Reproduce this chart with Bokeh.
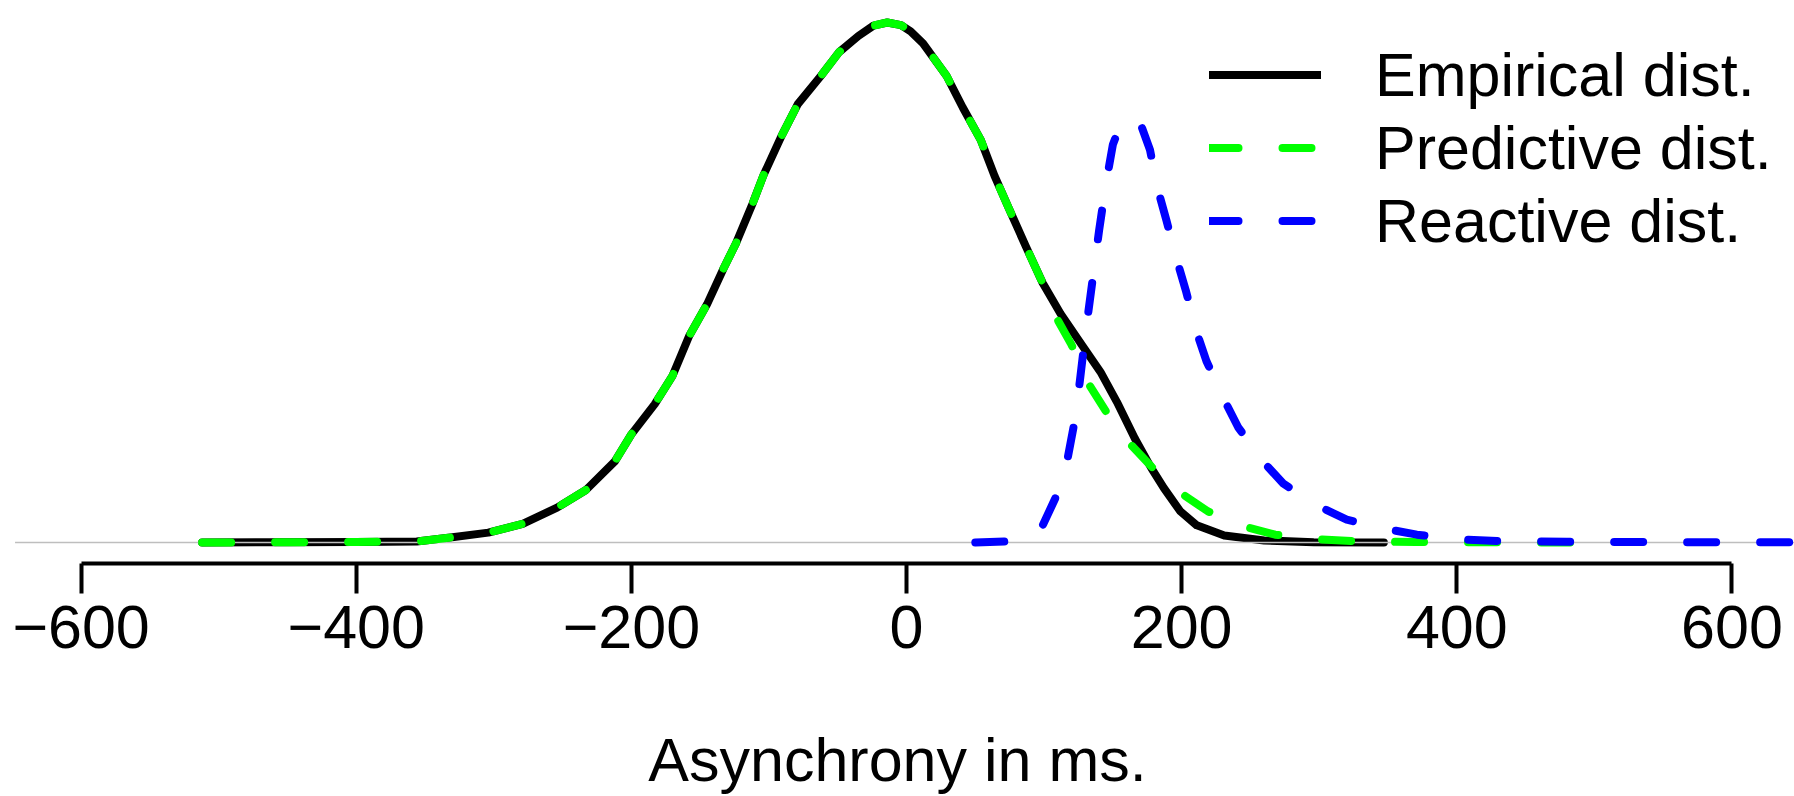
from bokeh.plotting import figure
from bokeh.models import Range1d, FixedTicker, Legend, LegendItem
from bokeh.embed import file_html
from bokeh.resources import INLINE

# ---- data (density relative to the empirical peak) ----
emp_x = [-512, -450, -400, -356, -333, -304, -279, -254, -233, -212, -200, -183,
         -170, -158, -145, -133, -124, -112, -104, -91, -79, -62, -49, -35, -24,
         -14, -4, 3, 12, 29, 41, 54, 64, 74, 87, 99, 112, 128, 141, 153, 166, 178,
         187, 199, 211, 231, 260, 296, 347]
emp_y = [0.000, 0.0005, 0.001, 0.002, 0.009, 0.019, 0.036, 0.067, 0.101, 0.156,
         0.208, 0.266, 0.321, 0.397, 0.458, 0.527, 0.575, 0.651, 0.706, 0.781,
         0.843, 0.898, 0.943, 0.974, 0.994, 1.000, 0.995, 0.983, 0.960, 0.898,
         0.836, 0.774, 0.705, 0.645, 0.568, 0.499, 0.440, 0.378, 0.328, 0.270,
         0.200, 0.143, 0.105, 0.060, 0.033, 0.0135, 0.004, 0.0005, 0.000]

pred_x = [-512, -450, -400, -356, -333, -304, -279, -254, -233, -212, -200, -183,
          -170, -158, -145, -133, -124, -112, -104, -91, -79, -62, -49, -35, -24,
          -14, -4, 3, 12, 29, 41, 54, 64, 74, 87, 99, 108, 120, 130, 145, 161, 178,
          200, 219, 245, 268, 300, 330, 370, 420, 490]
pred_y = [0.000, 0.0005, 0.001, 0.002, 0.009, 0.019, 0.036, 0.067, 0.101, 0.156,
          0.208, 0.266, 0.321, 0.397, 0.458, 0.527, 0.575, 0.651, 0.706, 0.781,
          0.843, 0.898, 0.943, 0.974, 0.994, 1.000, 0.995, 0.983, 0.960, 0.898,
          0.836, 0.774, 0.705, 0.645, 0.568, 0.499, 0.437, 0.380, 0.315, 0.252,
          0.194, 0.146, 0.094, 0.060, 0.031, 0.015, 0.006, 0.002, 0.0008, 0.0003,
          0.000]

react_x = [50, 75, 90, 99, 108, 117, 122, 126, 130, 135, 140, 145, 150, 155, 160,
           165, 170, 177, 183, 189, 197, 203, 211, 218, 231, 241, 259, 274, 300,
           320, 349, 371, 400, 430, 480, 560, 700]
react_y = [0.000, 0.002, 0.012, 0.033, 0.084, 0.160, 0.230, 0.310, 0.400, 0.500,
           0.600, 0.690, 0.765, 0.800, 0.815, 0.815, 0.806, 0.755, 0.676, 0.619,
           0.539, 0.485, 0.404, 0.349, 0.274, 0.222, 0.156, 0.113, 0.069, 0.044,
           0.026, 0.015, 0.006, 0.003, 0.0015, 0.0007, 0.0002]

tick_values = [-600, -400, -200, 0, 200, 400, 600]
tick_labels = ["\u2212600", "\u2212400", "\u2212200", "0", "200", "400", "600"]
series_labels = ["Empirical dist.", "Predictive dist.", "Reactive dist."]
x_label = "Asynchrony in ms."

FONT = "Liberation Sans"
FS = "61px"

# plot region of the original: xlim (-600, 600) widened by 4 % on each side
xlim = (tick_values[0], tick_values[-1])
pad = 0.04 * (xlim[1] - xlim[0])

p = figure(width=1794, height=796, output_backend="svg", toolbar_location=None,
           x_range=Range1d(-658.57, 645.49), y_range=Range1d(-0.0404, 1.0423),
           y_axis_location=None, min_border_left=0, min_border_right=0,
           min_border_top=0, min_border_bottom=233)
p.outline_line_color = None
p.grid.visible = False
p.background_fill_color = "white"
p.border_fill_color = "white"

r_emp = p.line(emp_x, emp_y, line_color="black", line_width=8, line_join="round",
               line_cap="round")
# grey zero line across the plot region
p.segment(x0=[xlim[0] - pad], x1=[xlim[1] + pad], y0=[0], y1=[0],
          line_color="#BEBEBE", line_width=1.5)
r_pred = p.line(pred_x, pred_y, line_color="#00FF00", line_width=8, line_join="round",
                line_cap="round", line_dash="29 44")
r_react = p.line(react_x, react_y, line_color="#0000FF", line_width=8, line_join="round",
                 line_cap="round", line_dash="29 44")

ax = p.xaxis[0]
ax.ticker = FixedTicker(ticks=tick_values)
ax.major_label_overrides = {v: l for v, l in zip(tick_values, tick_labels)}
ax.bounds = xlim
ax.axis_line_width = 4
ax.axis_line_color = "black"
ax.major_tick_line_width = 4
ax.major_tick_line_color = "black"
ax.major_tick_out = 30
ax.major_tick_in = 0
ax.minor_tick_out = 0
ax.minor_tick_in = 0
ax.major_label_text_font = FONT
ax.major_label_text_font_size = FS
ax.major_label_text_color = "black"
ax.major_label_standoff = 12
ax.axis_label = x_label
ax.axis_label_text_font = FONT
ax.axis_label_text_font_size = FS
ax.axis_label_text_font_style = "normal"
ax.axis_label_text_color = "black"
ax.axis_label_standoff = 75

legend = Legend(items=[LegendItem(label=series_labels[0], renderers=[r_emp]),
                       LegendItem(label=series_labels[1], renderers=[r_pred]),
                       LegendItem(label=series_labels[2], renderers=[r_react])],
                location=(1209, 306), glyph_width=112, glyph_height=73,
                label_height=73, spacing=0, padding=0, margin=0,
                label_standoff=54, label_text_font=FONT, label_text_font_size=FS,
                label_text_color="black", border_line_color=None,
                background_fill_alpha=0)
p.add_layout(legend)

open("out.html", "w").write(file_html(p, INLINE))
